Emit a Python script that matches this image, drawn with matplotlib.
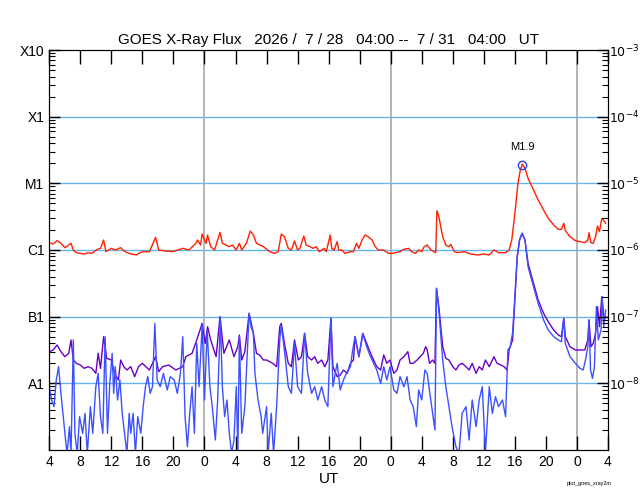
import numpy as np
import matplotlib
matplotlib.use('Agg')
import matplotlib.pyplot as plt
from matplotlib.ticker import LogLocator, NullFormatter

plt.rcParams['font.family'] = ['Liberation Sans', 'DejaVu Sans']

# horas desde 7/28 04:00 UT, valores en log10(W/m2)
red_hours = [0, 0.5, 1.0, 1.5, 2.0, 2.8, 3.1, 3.5, 4.0, 4.5, 5.0, 5.5, 6.2, 6.6, 7.0, 7.3,
             8.0, 8.5, 9.2, 9.6, 10.0, 10.6, 11.2, 11.7, 12.0, 12.9, 13.7, 14.1, 15.0, 15.9,
             17.2, 18.0, 18.9, 19.1, 19.5, 19.7, 20.2, 20.4, 20.8, 21.3, 22.0, 22.3, 23.2,
             23.6, 24.1, 24.5, 24.8, 25.4, 25.9, 26.3, 26.7, 27.6, 28.4, 29.0, 29.5, 29.9,
             30.3, 30.8, 31.2, 31.6, 32.0, 32.3, 32.8, 33.1, 33.6, 34.0, 34.4, 34.8, 35.4,
             35.7, 36.2, 36.4, 36.7, 37.1, 37.3, 37.7, 38.1, 38.8, 39.2, 39.6, 39.9, 40.3,
             40.7, 41.1, 41.6, 42.0, 42.4, 43.1, 43.7, 44.2, 44.6, 45.2, 45.7, 46.3, 46.7,
             47.2, 47.6, 48.0, 48.3, 48.7, 49.2, 49.6, 49.8, 49.95, 50.2, 50.7, 51.1, 51.5,
             51.75, 52.2, 52.6, 53.5, 54.3, 55.2, 56.0, 56.7, 57.3, 57.9, 58.8, 59.25, 59.6,
             60.0, 60.4, 60.7, 60.95, 61.3, 61.7, 62.4, 63.0, 63.7, 64.3, 65.0, 65.6, 66.0,
             66.3, 66.5, 67.1, 67.8, 68.4, 69.0, 69.4, 69.55, 69.8, 70.1, 70.4, 70.65, 70.9,
             71.2, 71.4, 71.7]
red_log = [-5.89, -5.91, -5.86, -5.90, -5.965, -5.90, -6.0, -6.04, -6.05, -6.06, -6.04, -6.05,
           -5.99, -5.975, -5.85, -6.025, -5.975, -6.0, -5.965, -6.01, -6.04, -6.06, -6.075,
           -6.04, -6.025, -6.025, -5.81, -6.0, -6.015, -6.025, -5.975, -6.0, -5.9, -5.85,
           -5.925, -5.76, -5.9, -5.775, -5.95, -6.0, -5.735, -5.9, -5.95, -5.925, -6.0, -5.9,
           -6.0, -5.9, -5.715, -5.775, -5.9, -5.95, -6.025, -6.05, -6.025, -5.76, -5.8, -5.975,
           -6.0, -5.865, -6.0, -5.975, -5.79, -5.925, -5.95, -5.975, -5.95, -6.025, -5.975,
           -6.025, -5.775, -5.975, -6.0, -5.875, -6.0, -6.0, -6.05, -6.025, -6.025, -5.9,
           -5.975, -5.85, -5.775, -5.8, -5.85, -5.95, -6.0, -6.0, -6.05, -6.05, -6.04, -6.025,
           -5.99, -5.975, -6.025, -6.05, -6.0, -6.025, -5.95, -5.925, -6.0, -6.025, -6.04,
           -5.41, -5.5, -5.8, -5.925, -5.95, -5.915, -6.025, -6.04, -6.025, -6.06, -6.075,
           -6.06, -6.075, -6.0, -6.04, -6.04, -6.0, -5.85, -5.45, -5.0, -4.8, -4.71, -4.775,
           -4.925, -5.1, -5.25, -5.4, -5.525, -5.625, -5.69, -5.69, -5.6, -5.71, -5.8, -5.86,
           -5.875, -5.89, -5.85, -5.74, -5.89, -5.9, -5.8, -5.64, -5.725, -5.525, -5.55, -5.6]

purple_hours = [0.0, 0.5, 1.0, 1.5, 2.0, 2.5, 2.8, 3.1, 3.5, 4.0, 4.5, 5.0, 5.5, 6.0, 6.3, 6.6,
                7.0, 7.4, 8.0, 8.4, 8.9, 9.2, 9.6, 10.0, 10.5, 11.0, 11.5, 12.0, 12.9, 13.7,
                14.1, 14.6, 15.4, 16.3, 17.2, 17.6, 18.4, 19.0, 19.7, 20.1, 20.4, 20.8, 21.5,
                22.0, 22.5, 23.2, 23.8, 24.3, 24.5, 24.8, 25.2, 25.75, 26.3, 26.7, 27.1, 27.6,
                28.0, 28.4, 28.8, 29.3, 29.7, 29.9, 30.3, 30.8, 31.2, 31.6, 32.1, 32.5, 32.9,
                33.3, 33.8, 34.2, 34.6, 35.1, 35.5, 35.9, 36.3, 36.55, 37.1, 37.5, 37.9, 38.4,
                38.8, 39.2, 39.4, 39.9, 40.4, 40.9, 41.4, 41.8, 42.2, 42.7, 43.1, 43.5, 43.9,
                44.4, 44.8, 45.2, 45.7, 46.2, 46.5, 46.9, 47.4, 47.8, 48.2, 48.5, 48.7, 49.0,
                49.4, 49.7, 49.9, 50.2, 50.7, 51.1, 51.5, 52.0, 52.4, 52.8, 53.2, 53.7, 54.1,
                54.5, 55.0, 55.4, 55.8, 56.2, 56.7, 57.3, 57.7, 58.2, 58.6, 59.0, 59.25, 59.7,
                60.0, 60.3, 60.6, 60.95, 61.3, 61.7, 62.4, 63.0, 63.7, 64.3, 65.0, 65.6, 66.0,
                66.3, 66.5, 67.1, 67.8, 68.4, 69.0, 69.4, 69.55, 69.8, 70.1, 70.4, 70.65, 70.9,
                71.2, 71.5, 71.7]
purple_log = [-7.525, -7.5, -7.425, -7.525, -7.6, -7.55, -7.35, -7.65, -7.7, -7.725, -7.775,
              -7.75, -7.775, -7.85, -7.55, -7.775, -7.3, -7.625, -7.65, -7.85, -7.95, -7.65,
              -7.75, -7.8, -7.75, -7.9, -7.75, -7.7, -7.8, -7.6, -7.825, -7.75, -7.725, -7.8,
              -7.75, -7.6, -7.55, -7.35, -7.1, -7.4, -7.15, -7.35, -7.6, -7.0, -7.55, -7.35,
              -7.6, -7.45, -7.275, -7.65, -7.525, -6.95, -7.25, -7.55, -7.575, -7.65, -7.65,
              -7.675, -7.7, -7.75, -7.15, -7.1, -7.4, -7.7, -7.75, -7.35, -7.65, -7.6, -7.25,
              -7.6, -7.65, -7.6, -7.7, -7.65, -7.75, -7.65, -7.025, -7.75, -7.9, -7.875, -7.8,
              -7.85, -7.7, -7.65, -7.3, -7.6, -7.25, -7.4, -7.55, -7.65, -7.75, -7.8, -7.575,
              -7.7, -7.65, -7.85, -7.8, -7.65, -7.6, -7.525, -7.7, -7.7, -7.65, -7.6, -7.55,
              -7.45, -7.5, -7.7, -7.65, -7.7, -6.575, -6.85, -7.45, -7.625, -7.65, -7.75, -7.8,
              -7.725, -7.7, -7.75, -7.8, -7.7, -7.85, -7.75, -7.8, -7.65, -7.75, -7.6, -7.7,
              -7.725, -7.75, -7.8, -7.5, -7.35, -6.75, -6.1, -5.85, -5.75, -5.85, -6.2, -6.5,
              -6.75, -6.95, -7.075, -7.2, -7.275, -7.3, -7.025, -7.3, -7.45, -7.5, -7.5, -7.5,
              -7.35, -7.05, -7.45, -7.4, -7.25, -6.85, -7.15, -6.7, -7.05, -7.0]

blue_hours = [0.0, 0.3, 0.6, 0.9, 1.2, 1.5, 1.8, 2.1, 2.3, 2.6, 2.8, 3.1, 3.3, 3.6, 3.9, 4.3,
              4.6, 4.9, 5.3, 5.6, 6.0, 6.3, 6.6, 6.9, 7.2, 7.5, 7.8, 8.1, 8.3, 8.5, 8.8, 9.1,
              9.4, 9.7, 10.0, 10.3, 10.5, 10.8, 11.1, 11.4, 11.8, 12.1, 12.4, 12.7, 13.0, 13.3,
              13.6, 13.9, 14.3, 14.7, 15.2, 15.6, 16.1, 16.5, 16.9, 17.2, 17.5, 17.8, 18.1,
              18.4, 18.7, 19.0, 19.3, 19.7, 20.0, 20.35, 20.7, 21.0, 21.4, 21.7, 22.05, 22.3,
              22.6, 22.9, 23.2, 23.5, 23.8, 24.1, 24.3, 24.5, 24.8, 25.2, 25.75, 26.0, 26.3,
              26.5, 26.9, 27.3, 27.5, 28.0, 28.2, 28.6, 28.9, 29.3, 29.7, 29.9, 30.3, 30.8,
              31.2, 31.6, 32.0, 32.5, 32.9, 33.3, 33.8, 34.2, 34.6, 35.1, 35.5, 35.9, 36.3,
              36.55, 36.85, 37.1, 37.5, 37.9, 38.4, 38.8, 39.1, 39.4, 39.9, 40.4, 40.9, 41.4,
              41.8, 42.2, 42.7, 43.1, 43.5, 43.9, 44.4, 44.8, 45.2, 45.7, 46.1, 46.5, 46.9,
              47.3, 47.6, 48.0, 48.4, 48.7, 49.1, 49.7, 49.9, 50.2, 50.7, 51.1, 51.5, 51.9,
              52.4, 52.8, 53.2, 53.7, 54.1, 54.5, 55.0, 55.4, 55.8, 56.2, 56.7, 57.1, 57.5,
              57.9, 58.4, 58.8, 59.1, 59.4, 59.7, 60.0, 60.3, 60.6, 60.9, 61.3, 61.7, 62.4,
              63.0, 63.7, 64.3, 65.0, 65.6, 66.0, 66.3, 66.5, 67.1, 67.8, 68.4, 68.8, 69.1,
              69.4, 69.55, 69.75, 70.0, 70.25, 70.5, 70.75, 71.1, 71.25, 71.45, 71.7]
blue_log = [-8.05, -8.25, -8.35, -7.95, -7.75, -8.15, -8.5, -8.85, -9.05, -8.65, -9.05, -7.35,
            -8.75, -9.05, -8.5, -8.75, -8.45, -9.05, -8.35, -8.75, -8.05, -7.85, -8.5, -8.75,
            -7.3, -8.75, -8.0, -7.55, -8.15, -7.75, -8.25, -7.95, -8.45, -8.75, -9.05, -8.45,
            -8.75, -8.45, -9.05, -8.5, -8.75, -8.35, -8.05, -7.9, -8.15, -8.05, -7.1, -7.95,
            -8.05, -7.85, -8.1, -7.9, -7.95, -8.15, -7.85, -7.3, -8.5, -8.95, -8.45, -8.05,
            -8.75, -7.4, -8.05, -7.125, -8.25, -7.2, -8.05, -8.35, -8.85, -8.25, -7.025, -8.05,
            -8.5, -8.25, -8.75, -9.05, -8.85, -8.05, -9.05, -7.3, -8.75, -8.35, -6.95, -7.15,
            -7.25, -7.85, -8.25, -8.5, -8.75, -8.35, -9.05, -8.45, -9.05, -8.35, -7.35, -7.125,
            -7.5, -8.05, -8.15, -7.4, -8.05, -8.15, -7.25, -7.85, -8.15, -8.05, -8.25, -8.05,
            -8.25, -8.35, -7.025, -8.05, -7.85, -7.7, -8.1, -7.95, -7.825, -7.75, -7.5, -7.3,
            -7.6, -7.25, -7.45, -7.6, -7.7, -7.8, -8.0, -7.75, -7.95, -7.75, -8.1, -8.15, -7.9,
            -8.05, -7.9, -8.25, -8.35, -8.65, -8.1, -8.25, -7.8, -7.85, -8.2, -8.7, -6.575,
            -6.9, -7.65, -8.05, -8.35, -8.65, -8.95, -9.05, -8.45, -8.35, -8.85, -8.25, -8.65,
            -8.25, -8.05, -9.05, -8.05, -8.45, -8.2, -8.35, -8.25, -8.5, -7.5, -7.45, -7.25,
            -6.7, -6.1, -5.85, -5.75, -5.85, -6.25, -6.55, -6.8, -7.05, -7.2, -7.3, -7.35,
            -7.375, -7.025, -7.4, -7.6, -7.7, -7.775, -7.8, -7.65, -7.45, -7.05, -7.8, -7.925,
            -7.75, -6.85, -7.35, -7.2, -6.7, -7.15, -6.9]

flare_hour = 60.95
flare_flux = 1.9e-5
flare_label = 'M1.9'

class_ticks = [1e-8, 1e-7, 1e-6, 1e-5, 1e-4, 1e-3]
class_labels = ['A1', 'B1', 'C1', 'M1', 'X1', 'X10']
power_labels = ['$10^{-8}$', '$10^{-7}$', '$10^{-6}$', '$10^{-5}$', '$10^{-4}$', '$10^{-3}$']
hour_ticks = list(range(0, 73, 4))
hour_labels = [str((4 + h) % 24) for h in hour_ticks]
day_lines = [20, 44, 68]

fig = plt.figure(figsize=(6.4, 5.0), dpi=100)
ax = fig.add_axes([0.077, 0.1, 0.873, 0.8])

for v in class_ticks[:-1]:
    ax.axhline(v, color='#62b6f0', lw=1.0, zorder=1)
for d in day_lines:
    ax.axvline(d, color='#a8a8a8', lw=1.2, zorder=1)

ax.plot(purple_hours, 10 ** np.array(purple_log), color='#6a00c8', lw=1.0, zorder=2)
ax.plot(blue_hours, 10 ** np.array(blue_log), color='#3c50ff', lw=1.0, zorder=3)
ax.plot(red_hours, 10 ** np.array(red_log), color='#ff2000', lw=1.0, zorder=4)

ax.plot([flare_hour], [flare_flux], 'o', mfc='none', mec='#2040ff', ms=6, mew=1.0, zorder=5)
ax.text(flare_hour, flare_flux * 1.55, flare_label, ha='center', va='bottom', fontsize=8)

ax.set_yscale('log')
ax.set_ylim(1e-9, 1e-3)
ax.set_xlim(0, 72)
ax.set_yticks(class_ticks)
ax.set_yticklabels(class_labels, fontsize=10)
ax.yaxis.set_minor_locator(LogLocator(base=10, subs=np.arange(2, 10)))
ax.yaxis.set_minor_formatter(NullFormatter())
ax.set_xticks(hour_ticks)
ax.set_xticklabels(hour_labels, fontsize=10)
ax.tick_params(axis='x', which='major', direction='in', length=10, top=True, width=1)
ax.tick_params(axis='y', which='major', direction='in', length=8, width=1)
ax.tick_params(axis='y', which='minor', direction='in', length=4, width=0.8)

ax2 = ax.twinx()
ax2.set_yscale('log')
ax2.set_ylim(1e-9, 1e-3)
ax2.set_yticks(class_ticks)
ax2.set_yticklabels(power_labels, fontsize=9)
ax2.yaxis.set_minor_locator(LogLocator(base=10, subs=np.arange(2, 10)))
ax2.yaxis.set_minor_formatter(NullFormatter())
ax2.tick_params(axis='y', which='major', direction='in', length=8, width=1, pad=1)
ax2.tick_params(axis='y', which='minor', direction='in', length=4, width=0.8)

ax.set_xlabel('UT', fontsize=11, labelpad=2)
ax.set_title('GOES X-Ray Flux   2026 /  7 / 28   04:00 --  7 / 31   04:00   UT', fontsize=11, pad=4)
fig.text(0.955, 0.03, 'plot_goes_xray2m', fontsize=4, ha='right')

fig.savefig('out.png', dpi=100)
